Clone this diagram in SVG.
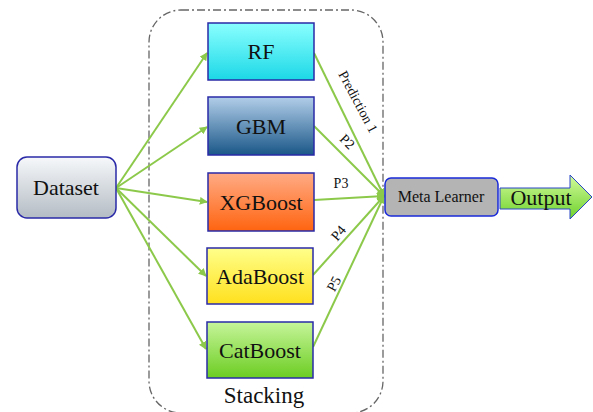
<svg xmlns="http://www.w3.org/2000/svg" width="593" height="412" viewBox="0 0 593 412">
<style>
text{font-family:"Liberation Serif","Times New Roman",serif;fill:#111;text-anchor:middle}
.node{font-size:22px}
.edge{stroke:#8cc94a;stroke-width:2;fill:none}
.box{stroke:#2a2aa8;stroke-width:1.5}
.el{font-size:14px}
</style>
<defs>
<linearGradient id="gData" x1="0" y1="0" x2="0" y2="1"><stop offset="0" stop-color="#f6f8fa"/><stop offset="1" stop-color="#b4bcc4"/></linearGradient>
<linearGradient id="gRF" x1="0" y1="0" x2="0" y2="1"><stop offset="0" stop-color="#8affff"/><stop offset="1" stop-color="#1cd8e6"/></linearGradient>
<linearGradient id="gGBM" x1="0" y1="0" x2="0" y2="1"><stop offset="0" stop-color="#b2cee9"/><stop offset="1" stop-color="#1a5788"/></linearGradient>
<linearGradient id="gXG" x1="0" y1="0" x2="0" y2="1"><stop offset="0" stop-color="#ffab85"/><stop offset="1" stop-color="#ff6410"/></linearGradient>
<linearGradient id="gAda" x1="0" y1="0" x2="0" y2="1"><stop offset="0" stop-color="#ffff8a"/><stop offset="1" stop-color="#ffe01e"/></linearGradient>
<linearGradient id="gCat" x1="0" y1="0" x2="0" y2="1"><stop offset="0" stop-color="#c6f59a"/><stop offset="1" stop-color="#6ccd22"/></linearGradient>
<linearGradient id="gOut" x1="0" y1="0" x2="0" y2="1"><stop offset="0" stop-color="#d2fb9c"/><stop offset="1" stop-color="#6fd12c"/></linearGradient>
<marker id="arr" viewBox="0 0 10 10" refX="9" refY="5" markerWidth="4" markerHeight="4" orient="auto" markerUnits="strokeWidth">
<path d="M0,0 L10,5 L0,10 z" fill="#8cc94a"/>
</marker>
</defs>

<g id="stacking">
<rect x="149" y="10" width="234" height="403" rx="32" fill="none" stroke="#666" stroke-width="1.3" stroke-dasharray="8,3,2,3"/>
<text x="264" y="403" font-size="23" font-family="Liberation Serif, serif">Stacking</text>
</g>

<g id="connectors">
<line class="edge" x1="116" y1="188" x2="207" y2="53" marker-end="url(#arr)"/>
<line class="edge" x1="116" y1="188" x2="207" y2="127" marker-end="url(#arr)"/>
<line class="edge" x1="116" y1="188" x2="207" y2="202" marker-end="url(#arr)"/>
<line class="edge" x1="116" y1="188" x2="206" y2="276" marker-end="url(#arr)"/>
<line class="edge" x1="116" y1="188" x2="206" y2="349" marker-end="url(#arr)"/>
<line class="edge" x1="314" y1="53" x2="384" y2="196" marker-end="url(#arr)"/>
<line class="edge" x1="314" y1="126" x2="384" y2="196" marker-end="url(#arr)"/>
<line class="edge" x1="314" y1="200" x2="384" y2="196" marker-end="url(#arr)"/>
<line class="edge" x1="313" y1="275" x2="384" y2="196" marker-end="url(#arr)"/>
<line class="edge" x1="313" y1="347" x2="384" y2="196" marker-end="url(#arr)"/>
<text class="el" font-family="Liberation Serif, serif" transform="translate(354,104) rotate(62)">Prediction 1</text>
<text class="el" font-family="Liberation Serif, serif" transform="translate(344,145) rotate(45)">P2</text>
<text class="el" font-family="Liberation Serif, serif" x="341" y="188">P3</text>
<text class="el" font-family="Liberation Serif, serif" transform="translate(342,236) rotate(-50)">P4</text>
<text class="el" font-family="Liberation Serif, serif" transform="translate(338,286) rotate(-62)">P5</text>
</g>

<g id="dataset">
<rect class="box" x="17" y="157" width="99" height="61" rx="10" fill="url(#gData)"/>
<text class="node" font-family="Liberation Serif, serif" x="66" y="195">Dataset</text>
</g>
<g id="rf">
<rect class="box" x="208" y="23" width="106" height="57" fill="url(#gRF)"/>
<text class="node" font-family="Liberation Serif, serif" x="261" y="59">RF</text>
</g>
<g id="gbm">
<rect class="box" x="208" y="97" width="106" height="58" fill="url(#gGBM)"/>
<text class="node" font-family="Liberation Serif, serif" x="261" y="134">GBM</text>
</g>
<g id="xgboost">
<rect class="box" x="208" y="173" width="106" height="58" fill="url(#gXG)"/>
<text class="node" font-family="Liberation Serif, serif" x="261" y="210">XGBoost</text>
</g>
<g id="adaboost">
<rect class="box" x="207" y="248" width="106" height="56" fill="url(#gAda)"/>
<text class="node" font-family="Liberation Serif, serif" x="260" y="284">AdaBoost</text>
</g>
<g id="catboost">
<rect class="box" x="207" y="322" width="106" height="56" fill="url(#gCat)"/>
<text class="node" font-family="Liberation Serif, serif" x="260" y="358">CatBoost</text>
</g>
<g id="meta">
<rect x="385" y="178" width="113" height="38" rx="6" fill="#b4b4b4" stroke="#1a2ad8" stroke-width="1.5"/>
<text font-family="Liberation Serif, serif" x="441" y="202" font-size="16">Meta Learner</text>
</g>
<g id="output">
<path d="M500,188 L570,188 L570,175 L592,197 L570,219 L570,209 L500,209 z" fill="url(#gOut)" stroke="#2a44c8" stroke-width="1"/>
<text font-family="Liberation Serif, serif" x="541" y="205" font-size="22">Output</text>
</g>
</svg>
